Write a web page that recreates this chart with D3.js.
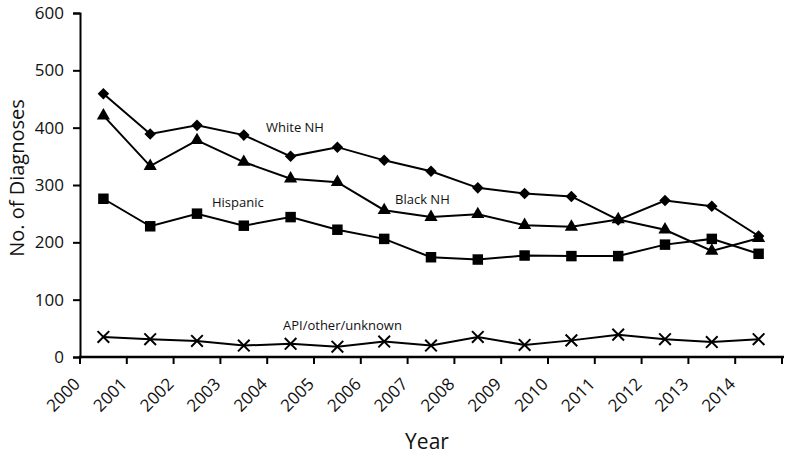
<!DOCTYPE html>
<html>
<head>
<meta charset="utf-8">
<script src="https://cdn.jsdelivr.net/npm/d3@7"></script>
<style>
  body { margin: 0; background: #fff; }
  text { font-family: "Open Sans", "DejaVu Sans", sans-serif; fill: #111; }
</style>
</head>
<body>
<svg id="chart"></svg>
<script>
// years on the axis (one category per year)
let years = ["2000","2001","2002","2003","2004","2005","2006","2007","2008","2009","2010","2011","2012","2013","2014"];

let whiteNH = [459, 389, 404, 387, 350, 366, 343, 324, 295, 285, 280, 239, 273, 263, 211];
let blackNH = [421, 333, 378, 340, 311, 305, 256, 244, 249, 230, 227, 240, 222, 185, 207];
let hispanic = [276, 228, 250, 229, 244, 222, 206, 174, 170, 177, 176, 176, 196, 206, 180];
let apiOther = [35, 31, 28, 20, 23, 18, 27, 20, 35, 21, 29, 39, 31, 26, 31];

let yTicks = [0, 100, 200, 300, 400, 500, 600];

let ancho = 785, alto = 457;
let svg = d3.select("#chart").attr("width", ancho).attr("height", alto);

let mLeft = 80, mRight = 782, mTop = 13, mBottom = 357;

// escala x: bandas, un punto al centro de cada banda
let x = d3.scaleBand().domain(years).range([mLeft, mRight]);
let y = d3.scaleLinear().domain([0, 600]).range([mBottom, mTop]);

// eje y
let yAxis = svg.append("g")
    .attr("transform", "translate(" + mLeft + ",0)")
    .call(d3.axisLeft(y).tickValues(yTicks).tickSize(7).tickPadding(9));
yAxis.select(".domain").attr("stroke", "#000").attr("stroke-width", 2);
yAxis.selectAll(".tick line").attr("stroke", "#000").attr("stroke-width", 2);
yAxis.selectAll(".tick text").style("font-size", "17px").attr("fill", "#111");

// eje x: marcas en los bordes de las bandas
let bordes = years.map(function (d) { return x(d); }).concat([mRight]);
let xg = svg.append("g");
xg.append("line")
    .attr("x1", mLeft - 1).attr("x2", mRight + 2)
    .attr("y1", mBottom).attr("y2", mBottom)
    .attr("stroke", "#000").attr("stroke-width", 2.5);
xg.selectAll("line.tick")
    .data(bordes)
    .enter().append("line")
    .attr("class", "tick")
    .attr("x1", function (d) { return d; }).attr("x2", function (d) { return d; })
    .attr("y1", mBottom).attr("y2", mBottom + 7)
    .attr("stroke", "#000").attr("stroke-width", 2);
xg.selectAll("text")
    .data(years)
    .enter().append("text")
    .attr("transform", function (d) { return "translate(" + (x(d) - 3) + "," + (mBottom + 24) + ") rotate(-45)"; })
    .attr("text-anchor", "end")
    .attr("dy", "0.35em")
    .style("font-size", "17px")
    .text(function (d) { return d; });

// titulos de ejes
svg.append("text")
    .attr("x", 427).attr("y", 449)
    .attr("text-anchor", "middle")
    .style("font-size", "21px")
    .text("Year");
svg.append("text")
    .attr("transform", "translate(24," + 178 + ") rotate(-90)")
    .attr("text-anchor", "middle")
    .style("font-size", "20px")
    .text("No. of Diagnoses");

let cx = function (d, i) { return x(years[i]) + x.bandwidth() / 2; };
let linea = d3.line()
    .x(function (d, i) { return cx(d, i); })
    .y(function (d) { return y(d); });

let series = [
    { name: "White NH", values: whiteNH, symbol: d3.symbolDiamond2, size: 85 },
    { name: "Black NH", values: blackNH, symbol: d3.symbolTriangle, size: 75 },
    { name: "Hispanic", values: hispanic, symbol: d3.symbolSquare, size: 110 },
    { name: "API/other/unknown", values: apiOther, symbol: d3.symbolTimes, size: 90 }
];

series.forEach(function (s) {
    svg.append("path")
        .attr("d", linea(s.values))
        .attr("fill", "none")
        .attr("stroke", "#000")
        .attr("stroke-width", 2);
    let sym = d3.symbol().type(s.symbol).size(s.size);
    svg.selectAll(null)
        .data(s.values)
        .enter().append("path")
        .attr("transform", function (d, i) { return "translate(" + cx(d, i) + "," + y(d) + ")"; })
        .attr("d", sym)
        .attr("fill", s.symbol === d3.symbolTimes ? "none" : "#000")
        .attr("stroke", "#000")
        .attr("stroke-width", s.symbol === d3.symbolTimes ? 2 : 0);
});

// etiquetas de series
let etiquetas = [
    { text: "White NH", x: 266, y: 132 },
    { text: "Hispanic", x: 212, y: 207 },
    { text: "Black NH", x: 395, y: 204 },
    { text: "API/other/unknown", x: 283, y: 330 }
];
svg.selectAll("text.lbl")
    .data(etiquetas)
    .enter().append("text")
    .attr("class", "lbl")
    .attr("x", function (d) { return d.x; })
    .attr("y", function (d) { return d.y; })
    .style("font-size", "13px")
    .text(function (d) { return d.text; });
</script>
</body>
</html>
